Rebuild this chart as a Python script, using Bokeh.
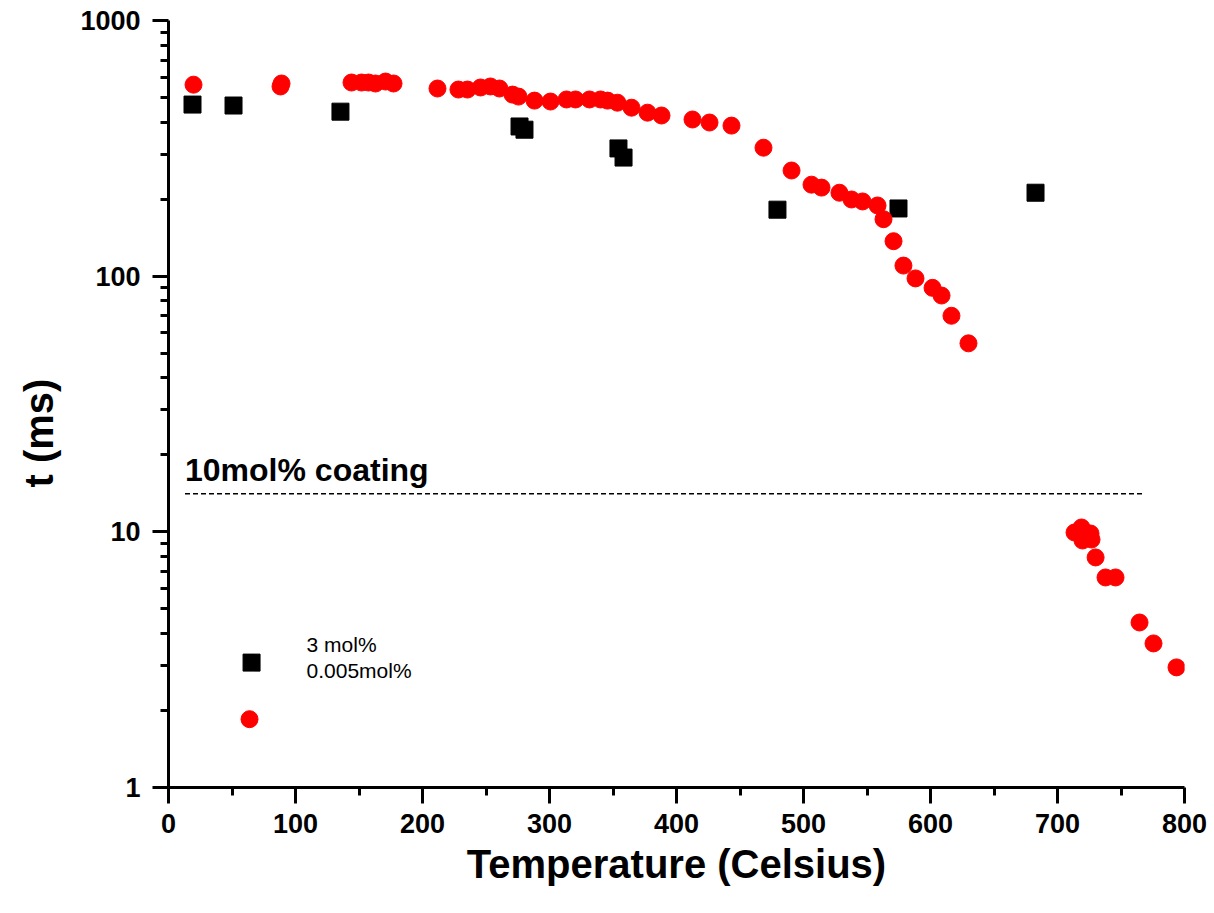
from bokeh.plotting import figure
from bokeh.models import FixedTicker, Label, Title
from bokeh.embed import file_html
from bokeh.resources import INLINE

# ---- data ----
temp_3mol = [18.9, 51.2, 135.4, 276.4, 280.3, 354.3, 358.3, 479.5, 574.8, 682.7]
tau_3mol = [469, 465, 440, 385, 374, 316, 291, 182, 184, 212]

temp_0005mol = [19.7, 88.2, 89.0, 144.1, 152.0, 157.5, 163.0, 170.9, 177.2, 211.8,
                228.3, 235.4, 245.7, 253.5, 260.6, 270.9, 275.6, 288.2, 300.8, 313.4,
                320.5, 331.5, 340.2, 345.7, 353.5, 364.6, 377.2, 388.2, 412.6, 426.0,
                443.3, 468.5, 490.6, 506.3, 514.2, 528.3, 537.8, 546.5, 558.3, 563.0,
                570.9, 578.7, 588.2, 601.6, 608.7, 616.5, 629.9, 713.4, 718.9, 721.3,
                726.0, 719.7, 726.8, 730.0, 737.8, 745.7, 764.6, 775.6, 793.7]
tau_0005mol = [561, 552, 567, 572, 572, 572, 567, 577, 567, 542,
               537, 537, 547, 552, 542, 513, 504, 486, 482, 491,
               491, 491, 491, 486, 477, 456, 436, 425, 410, 399,
               388, 318, 259, 228, 222, 212, 199.5, 196, 189, 167,
               137, 110, 98, 90, 84, 70, 54.6, 9.94, 10.4, 9.85,
               9.85, 9.25, 9.33, 7.94, 6.63, 6.63, 4.42, 3.66, 2.95]

coating_level = 14.1
coating_span = [13, 768]
coating_text = "10mol% coating"
coating_text_y = 17.4

x_ticks = [0, 100, 200, 300, 400, 500, 600, 700, 800]
x_minor = [50, 150, 250, 350, 450, 550, 650, 750]
y_ticks = [1, 10, 100, 1000]
y_tick_labels = ["1", "10", "100", "1000"]
y_minor = [m * d for d in (1, 10, 100) for m in range(2, 10)]

x_title = "Temperature (Celsius)"
y_title = "t (ms)"

legend_labels = ["3 mol%", "0.005mol%"]
legend_marker_x = [65.4, 63.8]
legend_marker_y = [3.08, 1.85]
legend_text_x = 108.7
legend_text_y = [3.62, 2.87]

FONT = "Liberation Sans"

p = figure(width=1214, height=913, y_axis_type="log",
           x_range=(0, 800), y_range=(1, 1000),
           output_backend="svg", toolbar_location=None,
           min_border_left=168, min_border_right=30,
           min_border_top=20, min_border_bottom=126)
p.background_fill_color = "white"
p.border_fill_color = "white"
p.outline_line_color = None
p.xgrid.visible = False
p.ygrid.visible = False

p.xaxis.ticker = FixedTicker(ticks=x_ticks, minor_ticks=x_minor)
p.yaxis.ticker = FixedTicker(ticks=y_ticks, minor_ticks=y_minor)
p.yaxis.major_label_overrides = {t: l for t, l in zip(y_ticks, y_tick_labels)}

for ax in (p.xaxis, p.yaxis):
    ax.axis_line_width = 3
    ax.axis_line_color = "black"
    ax.major_tick_line_width = 3
    ax.minor_tick_line_width = 3
    ax.major_tick_line_color = "black"
    ax.minor_tick_line_color = "black"
    ax.major_tick_in = 0
    ax.major_tick_out = 16
    ax.minor_tick_in = 0
    ax.minor_tick_out = 8
    ax.major_label_text_font = FONT
    ax.major_label_text_font_style = "bold"
    ax.major_label_text_font_size = "27px"
    ax.major_label_text_color = "black"
    ax.axis_label_text_font = FONT
    ax.axis_label_text_font_style = "bold"
    ax.axis_label_text_font_size = "40px"
    ax.axis_label_text_color = "black"

p.xaxis.axis_label = x_title
p.xaxis.major_label_standoff = 10
p.yaxis.major_label_standoff = 12
p.xaxis.axis_label_standoff = 6

# y-axis title as a title in the left panel, shifted to match the original
p.add_layout(Title(text=y_title, align="left", offset=300, standoff=30,
                   vertical_align="top",
                   text_font=FONT, text_font_style="bold",
                   text_font_size="40px", text_color="black"), "left")

p.scatter(temp_3mol, tau_3mol, marker="square", size=17,
          fill_color="black", line_color="black")
p.scatter(temp_0005mol, tau_0005mol, marker="circle", size=17,
          fill_color="red", line_color="red")

p.line(coating_span, [coating_level, coating_level], line_color="black",
       line_width=1.5, line_dash="5 3")
p.add_layout(Label(x=coating_span[0], y=coating_text_y, text=coating_text,
                   text_font=FONT, text_font_style="bold",
                   text_font_size="32px", text_color="black",
                   text_baseline="alphabetic"))

# legend
p.scatter([legend_marker_x[0]], [legend_marker_y[0]], marker="square", size=17,
          fill_color="black", line_color="black")
p.scatter([legend_marker_x[1]], [legend_marker_y[1]], marker="circle", size=17,
          fill_color="red", line_color="red")
for lab, ly in zip(legend_labels, legend_text_y):
    p.add_layout(Label(x=legend_text_x, y=ly, text=lab, text_font=FONT,
                       text_font_size="21px", text_color="black",
                       text_baseline="alphabetic"))

open("out.html", "w").write(file_html(p, INLINE))
